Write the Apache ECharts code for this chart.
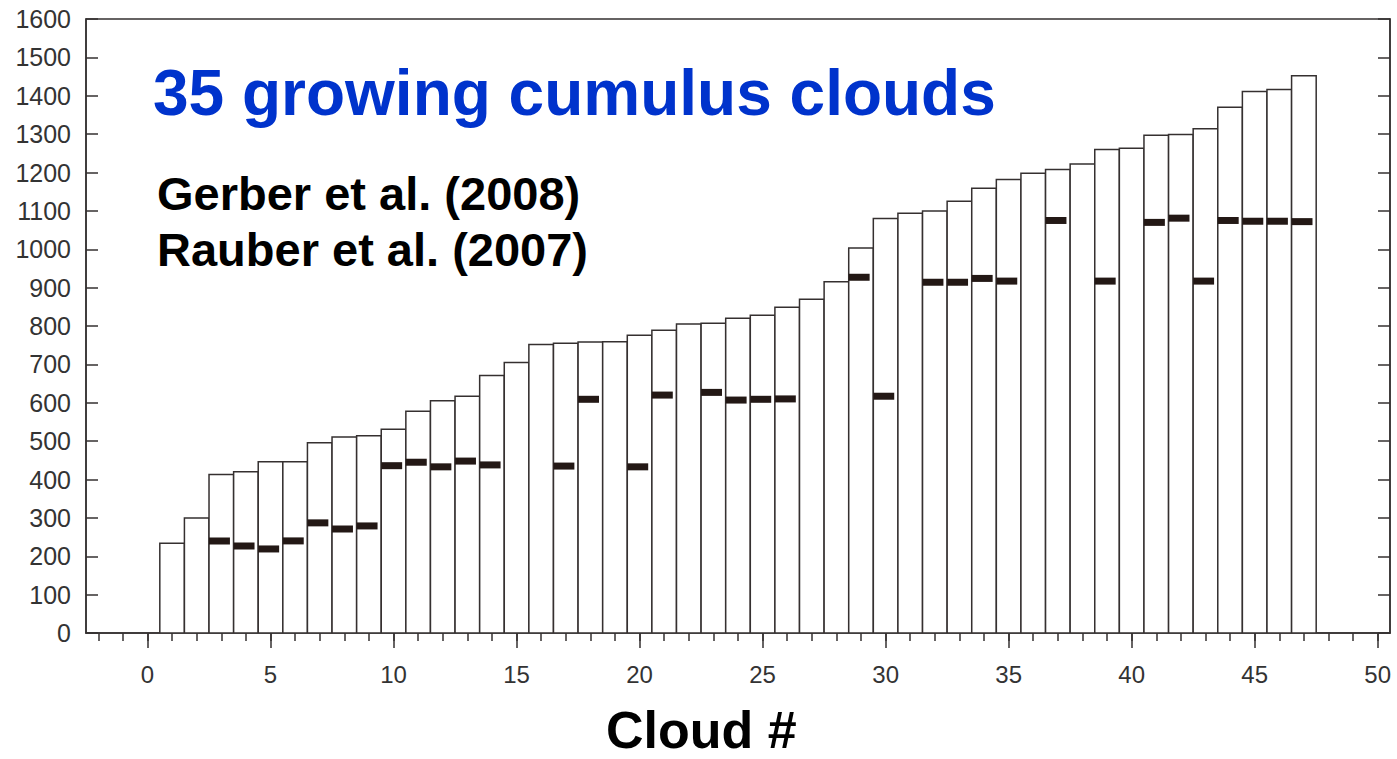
<!DOCTYPE html>
<html>
<head>
<meta charset="utf-8">
<script src="https://cdn.jsdelivr.net/npm/echarts@6/dist/echarts.min.js"></script>
<style>html,body{margin:0;padding:0;background:#fff;}#c{width:1397px;height:759px;}</style>
</head>
<body>
<div id="c"></div>
<script>
// Cloud top heights (Gerber et al. 2008), clouds 1..47
const clouds = [1,2,3,4,5,6,7,8,9,10,11,12,13,14,15,16,17,18,19,20,21,22,23,24,25,26,27,28,29,30,31,32,33,34,35,36,37,38,39,40,41,42,43,44,45,46,47];
const barHeights = [234,300,413,420,446,446,496,511,514,531,578,605,617,671,705,752,755,758,759,776,789,805,807,820,828,849,870,915,1003,1080,1094,1100,1125,1159,1182,1198,1208,1222,1260,1263,1297,1299,1314,1370,1411,1416,1452];
// Rauber et al. (2007) markers: cloud index and value
const dashClouds = [3,4,5,6,7,8,9,10,11,12,13,14,17,18,20,21,23,24,25,26,29,30,32,33,34,35,37,39,41,42,43,44,45,46,47];
const dashValues = [240,227,219,240,287,271,279,436,445,433,448,438,435,609,433,620,627,607,609,610,927,617,914,914,924,917,1075,917,1070,1081,917,1075,1073,1073,1072];
const xMajorTicks = [0,5,10,15,20,25,30,35,40,45,50];
const xMinorTicks = [-2,-1,0,1,2,3,4,5,6,7,8,9,10,11,12,13,14,15,16,17,18,19,20,21,22,23,24,25,26,27,28,29,30,31,32,33,34,35,36,37,38,39,40,41,42,43,44,45,46,47,48,49,50];

const barData = clouds.map((c, i) => [c, barHeights[i]]);
const dashData = dashClouds.map((c, i) => [c, dashValues[i]]);
const axisColor = '#353030';
const font = 'Liberation Sans, Arial, sans-serif';

const chart = echarts.init(document.getElementById('c'), null, {renderer: 'svg'});
chart.setOption({
  backgroundColor: '#fff',
  animation: false,
  grid: {left: 86, right: 7, top: 19, bottom: 126, show: true, borderColor: axisColor, borderWidth: 1.5, backgroundColor: 'transparent'},
  xAxis: [
    {type: 'value', min: -2.5, max: 50.5, position: 'bottom',
     axisLine: {show: true, onZero: false, lineStyle: {color: axisColor, width: 1.5}},
     axisTick: {show: true, inside: false, length: 15, customValues: xMajorTicks, lineStyle: {color: axisColor, width: 1.5}},
     axisLabel: {show: true, customValues: xMajorTicks, margin: 29, fontSize: 24, fontFamily: font, color: '#333',
                 formatter: v => String(v)},
     splitLine: {show: false}},
    {type: 'value', min: -2.5, max: 50.5, position: 'bottom',
     axisLine: {show: false, onZero: false},
     axisTick: {show: true, inside: false, length: 8, customValues: xMinorTicks, lineStyle: {color: axisColor, width: 1.5}},
     axisLabel: {show: false},
     splitLine: {show: false}}
  ],
  yAxis: [
    {type: 'value', min: 0, max: 1600, interval: 100, position: 'left',
     axisLine: {show: true, onZero: false, lineStyle: {color: axisColor, width: 1.5}},
     axisTick: {show: true, inside: true, length: 12, lineStyle: {color: axisColor, width: 1.5}},
     axisLabel: {margin: 15, fontSize: 25, fontFamily: font, color: '#333', formatter: v => String(v)},
     splitLine: {show: false}},
    {type: 'value', min: 0, max: 1600, interval: 100, position: 'right',
     axisLine: {show: true, onZero: false, lineStyle: {color: axisColor, width: 1.5}},
     axisTick: {show: true, inside: true, length: 12, lineStyle: {color: axisColor, width: 1.5}},
     axisLabel: {show: false},
     splitLine: {show: false}}
  ],
  series: [
    {type: 'custom', xAxisIndex: 0, yAxisIndex: 0, data: barData, clip: true, z: 2,
     renderItem: function (params, api) {
       const x = api.value(0), h = api.value(1);
       const p0 = api.coord([x - 0.5, h]);
       const p1 = api.coord([x + 0.5, 0]);
       return {type: 'rect', shape: {x: p0[0], y: p0[1], width: p1[0] - p0[0], height: p1[1] - p0[1]},
               style: {fill: '#fff', stroke: axisColor, lineWidth: 1.5}};
     }},
    {type: 'custom', xAxisIndex: 0, yAxisIndex: 0, data: dashData, clip: true, z: 3,
     renderItem: function (params, api) {
       const x = api.value(0), v = api.value(1);
       const p0 = api.coord([x - 0.5, v]);
       const p1 = api.coord([x + 0.35, v]);
       return {type: 'rect', shape: {x: p0[0], y: p0[1] - 3.5, width: p1[0] - p0[0], height: 7},
               style: {fill: '#231815'}};
     }}
  ],
  graphic: [
    {type: 'text', left: 153, top: 61, z: 10,
     style: {text: '35 growing cumulus clouds', fill: '#0033cc', font: 'bold 64px ' + font}},
    {type: 'text', left: 157, top: 170, z: 10,
     style: {text: 'Gerber et al. (2008)', fill: '#000', font: 'bold 47px ' + font}},
    {type: 'text', left: 157, top: 226, z: 10,
     style: {text: 'Rauber et al. (2007)', fill: '#000', font: 'bold 47px ' + font}},
    {type: 'text', left: 606, top: 704, z: 10,
     style: {text: 'Cloud #', fill: '#000', font: 'bold 52px ' + font}}
  ]
});
</script>
</body>
</html>
